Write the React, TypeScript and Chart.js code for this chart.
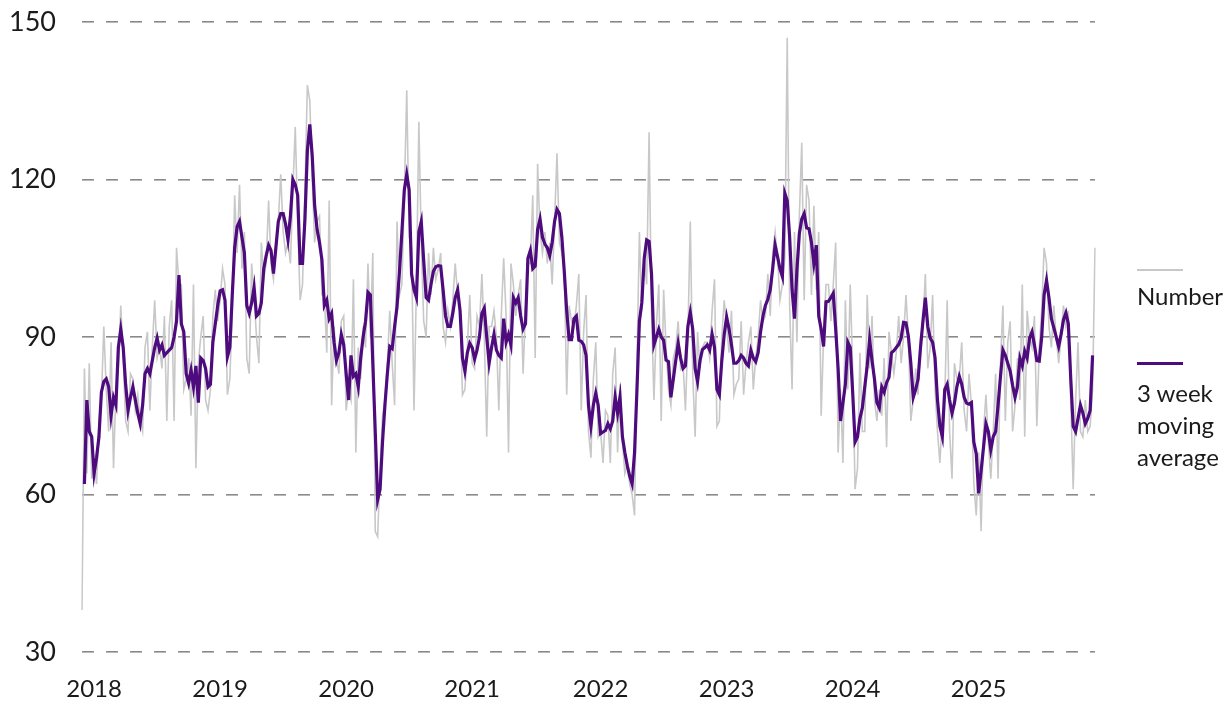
import React, { useEffect, useRef } from 'react';
import { Chart, registerables } from 'chart.js';

Chart.register(...registerables);

// First week of the weekly series (weeks ending on Fridays)
const firstWeekUTC = [2017, 11, 1];
const yearLabels = ['2018', '2019', '2020', '2021', '2022', '2023', '2024', '2025'];
const yTickValues = [30, 60, 90, 120, 150];
const legendNumber = 'Number';
const legendAverage = ['3 week', 'moving', 'average'];

const numberSeries: number[] = [
  38, 84, 64, 85, 63, 66, 62, 74, 78, 92,
  80, 72, 89, 65, 80, 84, 96, 86, 74, 72,
  83, 82, 76, 79, 74, 72, 88, 91, 76, 88,
  97, 86, 88, 84, 94, 74, 92, 97, 74, 107,
  100, 100, 80, 82, 86, 75, 100, 65, 85, 90,
  94, 78, 76, 80, 94, 99, 93, 97, 103, 100,
  79, 82, 95, 117, 106, 119, 103, 110, 86, 83,
  104, 98, 90, 85, 108, 101, 104, 116, 104, 101,
  108, 112, 121, 110, 106, 108, 104, 118, 130, 112,
  97, 100, 118, 138, 135, 120, 108, 112, 113, 98,
  98, 87, 116, 77, 92, 86, 83, 93, 94, 76,
  80, 78, 101, 68, 88, 82, 92, 88, 104, 90,
  106, 53, 52, 65, 75, 78, 85, 95, 85, 77,
  112, 98, 100, 117, 137, 109, 107, 76, 100, 131,
  108, 93, 90, 106, 98, 107, 101, 103, 106, 92,
  89, 95, 92, 97, 104, 98, 95, 79, 80, 88,
  98, 85, 84, 94, 92, 102, 90, 71, 92, 92,
  95, 90, 76, 94, 105, 94, 68, 104, 100, 94,
  98, 101, 83, 95, 104, 104, 117, 86, 123, 110,
  106, 110, 104, 108, 100, 112, 125, 108, 106, 103,
  79, 96, 93, 92, 96, 102, 76, 91, 98, 72,
  67, 82, 89, 71, 72, 66, 76, 75, 66, 83,
  88, 68, 81, 70, 64, 66, 62, 60, 56, 85,
  110, 95, 105, 100, 129, 95, 78, 92, 100, 74,
  99, 88, 80, 77, 86, 88, 93, 84, 85, 76,
  90, 112, 83, 71, 91, 84, 88, 89, 89, 86,
  95, 101, 73, 74, 90, 97, 92, 87, 95, 79,
  81, 82, 93, 79, 85, 89, 92, 80, 86, 90,
  97, 93, 94, 102, 94, 106, 110, 105, 97, 100,
  105, 147, 96, 80, 110, 89, 113, 127, 97, 119,
  116, 98, 115, 99, 110, 75, 90, 100, 100, 93,
  100, 108, 68, 80, 66, 97, 80, 100, 84, 61,
  65, 87, 72, 72, 98, 84, 94, 78, 74, 80,
  75, 86, 69, 91, 87, 83, 87, 94, 85, 90,
  98, 90, 74, 78, 84, 79, 90, 92, 102, 84,
  88, 98, 80, 72, 66, 75, 78, 97, 72, 63,
  85, 82, 82, 89, 76, 72, 83, 77, 62, 56,
  68, 53, 72, 79, 70, 63, 72, 83, 63, 85,
  96, 74, 89, 93, 72, 77, 86, 78, 100, 71,
  95, 90, 88, 94, 73, 88, 95, 107, 104, 92,
  88, 96, 90, 85, 90, 96, 92, 95, 78, 61,
  78, 89, 72, 71, 78, 72, 73, 80, 107,
];

const movingAverage: (number | null)[] = [
  null, 62, 78, 72, 71, 64, 67, 71, 79.5, 81.5,
  82, 80.5, 75, 78.5, 77, 88, 91.5, 88, 81, 76,
  78.5, 80.5, 78, 75.5, 73.5, 77, 83, 84, 83, 85.5,
  88, 89.8, 87.5, 88.5, 86.5, 87, 87.5, 88, 90, 93,
  101.8, 92.5, 91, 83, 81.2, 83.7, 80.5, 84.5, 77.5, 86,
  85.5, 84, 80.5, 81, 89, 92.5, 96, 98.8, 99, 97,
  86.2, 88, 98, 107, 111, 112, 109, 106, 96, 94.5,
  96.5, 99.5, 94, 94.5, 96.5, 103, 105.5, 107.5, 106.5, 102.1,
  107, 112, 113.5, 113.5, 111.5, 108.5, 113, 120, 119, 117,
  104, 104, 112.5, 125.5, 130.5, 124.5, 115, 110.5, 108, 104.7,
  96, 97, 93.5, 94.5, 89, 85.5, 87, 90.5, 88.5, 83,
  78, 86.5, 82.5, 83, 80.5, 86, 90, 93, 98.5, 98,
  85, 72, 59, 61, 70, 77, 83, 88.2, 87.8, 92,
  95.8, 102.5, 110, 118, 121, 118, 102, 99, 97.5, 110,
  112, 104.5, 97.5, 97, 100, 102.5, 103.4, 103.6, 103.5, 99,
  94, 92, 92, 94.5, 97.5, 99, 95, 86, 83.5, 87,
  88.8, 88, 85.8, 87.5, 90, 94.5, 95.5, 90, 85, 88,
  90.5, 87.5, 86.5, 86, 93.5, 89, 90.5, 88.5, 97.5, 96.5,
  97.5, 94, 91.5, 92.5, 105, 106.5, 103, 103.5, 110.5, 112.5,
  109, 107.7, 107, 105.5, 108, 112, 114.3, 113.5, 109, 102.5,
  95, 89.5, 89.5, 93.5, 94, 89.4, 89.2, 88.5, 86.5, 77,
  73, 77, 79.3, 77, 71.6, 71.9, 72.2, 73.5, 72.5, 74,
  78.6, 75.5, 78.6, 71, 68, 65.5, 63.5, 62, 68, 80,
  93, 96.5, 105, 108.5, 108.2, 102, 88.5, 90, 91.5, 90,
  89.4, 85.6, 85.3, 78.5, 82, 85.5, 88.8, 86, 84, 84.5,
  92, 94.7, 91.5, 84, 81.5, 85.5, 87.6, 88, 88.5, 87.5,
  90.5, 88, 80, 79, 85.5, 90.5, 93.8, 91.5, 88.5, 85,
  85, 85.5, 86.5, 86, 85, 84.5, 87.5, 86, 85.3, 87,
  91, 94, 96, 97.2, 99, 103, 107.5, 105.3, 103, 101.5,
  117.4, 116, 109, 99, 93.5, 102.8, 109.7, 112.5, 113.5, 110.8,
  110.6, 108, 104, 107.5, 94, 91.5, 88.2, 96.7, 96.8, 97.5,
  98.3, 91.5, 84, 74, 77.5, 81, 89, 88, 79.5, 70,
  71, 74.5, 76.5, 80.5, 84.5, 89.5, 85.5, 82, 77.5, 76.5,
  80.5, 79.5, 81.3, 82.3, 87, 87.4, 88, 88.6, 89.8, 92.8,
  92.7, 90.1, 85, 78.5, 80, 82, 88, 93, 97.5, 92,
  89.8, 89, 86, 78, 73, 71, 80, 81, 78, 75.5,
  77.4, 80.5, 82.5, 81, 78.5, 77.4, 77.2, 77.5, 70, 67.8,
  60.2, 64.5, 69, 73.5, 72, 68.5, 71, 72, 77, 82.5,
  87.5, 86.5, 85, 83.5, 80.8, 78.5, 80.5, 86, 84.5, 87.3,
  86, 89.8, 91, 88.5, 85.5, 85.4, 90, 98, 100.8, 97.5,
  93.5, 91.8, 90, 88.2, 90.5, 93.3, 94.6, 92.5, 82, 73,
  72, 74.5, 77, 75.5, 73.5, 74.5, 76, 86.5, null,
];

const weekLabels = numberSeries.map((_, i) => {
  const d = new Date(Date.UTC(firstWeekUTC[0], firstWeekUTC[1], firstWeekUTC[2] + 7 * i));
  return d.toISOString().slice(0, 10);
});

const FONT = 'Lato, "Open Sans", sans-serif';
const GREY = '#c8c8c8';
const PURPLE = '#4e0b7e';
const TEXT = '#1a1a1a';

export default function App() {
  const canvasRef = useRef<HTMLCanvasElement | null>(null);

  useEffect(() => {
    const canvas = canvasRef.current;
    if (!canvas) return;
    const chart = new Chart(canvas, {
      type: 'line',
      data: {
        labels: weekLabels,
        datasets: [
          {
            label: legendNumber,
            data: numberSeries,
            borderColor: GREY,
            borderWidth: 1.6,
            pointRadius: 0,
            tension: 0,
            order: 2,
          },
          {
            label: legendAverage.join(' '),
            data: movingAverage,
            borderColor: PURPLE,
            borderWidth: 3.2,
            pointRadius: 0,
            tension: 0,
            order: 1,
          },
        ],
      },
      options: {
        responsive: false,
        animation: false,
        events: [],
        layout: { padding: { top: 22, right: 133, left: 0, bottom: 0 } },
        plugins: { legend: { display: false }, tooltip: { enabled: false } },
        scales: {
          x: {
            type: 'category',
            offset: false,
            grid: { display: false, drawTicks: false },
            border: { display: false },
            ticks: {
              autoSkip: false,
              maxRotation: 0,
              minRotation: 0,
              padding: 23,
              color: TEXT,
              font: { family: FONT, size: 24 },
              callback: (_v: any, index: number) => {
                const y = weekLabels[index].slice(0, 4);
                const prev = index > 0 ? weekLabels[index - 1].slice(0, 4) : null;
                if (prev !== null && y !== prev && yearLabels.includes(y)) return y;
                return null;
              },
            },
            afterFit: (s: any) => {
              s.height = 49;
              s.paddingLeft = 0;
              s.paddingRight = 0;
            },
          },
          y: {
            min: yTickValues[0],
            max: yTickValues[yTickValues.length - 1],
            afterBuildTicks: (s: any) => {
              s.ticks = yTickValues.map((v) => ({ value: v }));
            },
            ticks: {
              padding: 26,
              color: TEXT,
              font: { family: FONT, size: 27 },
            },
            grid: { color: '#8a8a8a', lineWidth: 1.6, drawTicks: false },
            border: { display: false, dash: [12, 12] },
            afterFit: (s: any) => {
              s.width = 82;
              s.paddingTop = 0;
              s.paddingBottom = 0;
            },
          },
        },
      },
    });
    return () => chart.destroy();
  }, []);

  const textStyle: React.CSSProperties = {
    position: 'absolute',
    left: 1137,
    fontFamily: FONT,
    fontSize: 24,
    lineHeight: '32px',
    color: TEXT,
    whiteSpace: 'nowrap',
  };

  return (
    <div style={{ position: 'absolute', left: 0, top: 0, width: 1228, height: 701, background: '#fff' }}>
      <canvas ref={canvasRef} width={1228} height={701} style={{ position: 'absolute', left: 0, top: 0, width: 1228, height: 701 }} />
      <div style={{ position: 'absolute', left: 1137, top: 269, width: 46, height: 2, background: GREY }} />
      <div style={{ ...textStyle, top: 280 }}>{legendNumber}</div>
      <div style={{ position: 'absolute', left: 1137, top: 362, width: 46, height: 3, background: PURPLE }} />
      <div style={{ ...textStyle, top: 377 }}>
        {legendAverage.map((t, i) => (
          <div key={i}>{t}</div>
        ))}
      </div>
    </div>
  );
}
